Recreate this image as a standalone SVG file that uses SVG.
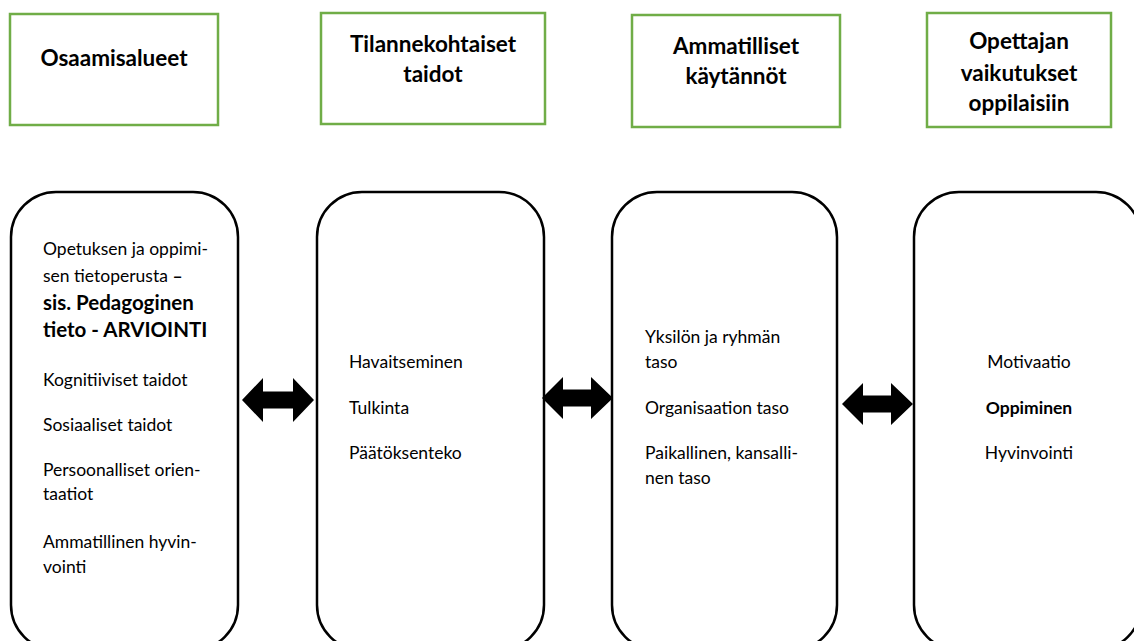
<svg xmlns="http://www.w3.org/2000/svg" width="1134" height="641" viewBox="0 0 1134 641">
<style>
.hdr{fill:#fff;stroke:#70AD47;stroke-width:2.5}
.card{fill:#fff;stroke:#000;stroke-width:2.5}
.ht{font-family:Lato,"Liberation Sans",sans-serif;font-weight:bold;font-size:22.5px;fill:#000;text-anchor:middle}
.bt{font-family:Lato,"Liberation Sans",sans-serif;font-size:17.5px;fill:#000}
.bb{font-family:Lato,"Liberation Sans",sans-serif;font-size:20.5px;font-weight:bold;fill:#000}
.arrow{fill:#000}
</style>
<rect width="1134" height="641" fill="#fff"/>
<g id="header-osaamisalueet"><rect class="hdr" x="10" y="14" width="208" height="111"/><text class="ht" x="114" y="66">Osaamisalueet</text></g>
<g id="header-tilannekohtaiset"><rect class="hdr" x="321" y="13" width="224" height="111"/><text class="ht" x="433" y="52">Tilannekohtaiset</text><text class="ht" x="433" y="82">taidot</text></g>
<g id="header-ammatilliset"><rect class="hdr" x="632" y="15" width="208" height="112"/><text class="ht" x="736" y="54">Ammatilliset</text><text class="ht" x="736" y="84">käytännöt</text></g>
<g id="header-opettajan"><rect class="hdr" x="927" y="13" width="184" height="114"/><text class="ht" x="1019" y="49">Opettajan</text><text class="ht" x="1019" y="81">vaikutukset</text><text class="ht" x="1019" y="111">oppilaisiin</text></g>

<g id="card-osaamisalueet"><rect class="card" x="11" y="192" width="227" height="458" rx="45"/>
<text class="bt" x="43" y="255">Opetuksen ja oppimi-</text>
<text class="bt" x="43" y="282">sen tietoperusta <tspan font-weight="bold">–</tspan></text>
<text class="bb" x="43" y="310">sis. Pedagoginen</text>
<text class="bb" x="43" y="337">tieto - ARVIOINTI</text>
<text class="bt" x="43" y="386">Kognitiiviset taidot</text>
<text class="bt" x="43" y="431">Sosiaaliset taidot</text>
<text class="bt" x="43" y="476">Persoonalliset orien-</text>
<text class="bt" x="43" y="500">taatiot</text>
<text class="bt" x="43" y="548">Ammatillinen hyvin-</text>
<text class="bt" x="43" y="573">vointi</text></g>

<g id="card-tilannekohtaiset"><rect class="card" x="317" y="192" width="227" height="458" rx="45"/>
<text class="bt" x="349" y="368">Havaitseminen</text>
<text class="bt" x="349" y="414">Tulkinta</text>
<text class="bt" x="349" y="459">Päätöksenteko</text></g>

<g id="card-ammatilliset"><rect class="card" x="612" y="192" width="225" height="458" rx="45"/>
<text class="bt" x="645" y="343">Yksilön ja ryhmän</text>
<text class="bt" x="645" y="368">taso</text>
<text class="bt" x="645" y="414">Organisaation taso</text>
<text class="bt" x="645" y="459">Paikallinen, kansalli-</text>
<text class="bt" x="645" y="484">nen taso</text></g>

<g id="card-opettajan"><rect class="card" x="914" y="192" width="227" height="458" rx="45"/>
<text class="bt" x="1029" y="368" text-anchor="middle">Motivaatio</text>
<text class="bt" x="1029" y="414" text-anchor="middle" font-weight="bold">Oppiminen</text>
<text class="bt" x="1029" y="459" text-anchor="middle">Hyvinvointi</text></g>

<g id="connectors">
<path class="arrow" d="M242,400 L263,378 L263,391.5 L293,391.5 L293,378 L314,400 L293,422 L293,408.5 L263,408.5 L263,422 Z"/>
<path class="arrow" d="M542,398 L563,377 L563,389.5 L591,389.5 L591,377 L613,398 L591,419 L591,406.5 L563,406.5 L563,419 Z"/>
<path class="arrow" d="M842,404 L863,383 L863,395.5 L891,395.5 L891,383 L913,404 L891,425 L891,412.5 L863,412.5 L863,425 Z"/>
</g>
</svg>
